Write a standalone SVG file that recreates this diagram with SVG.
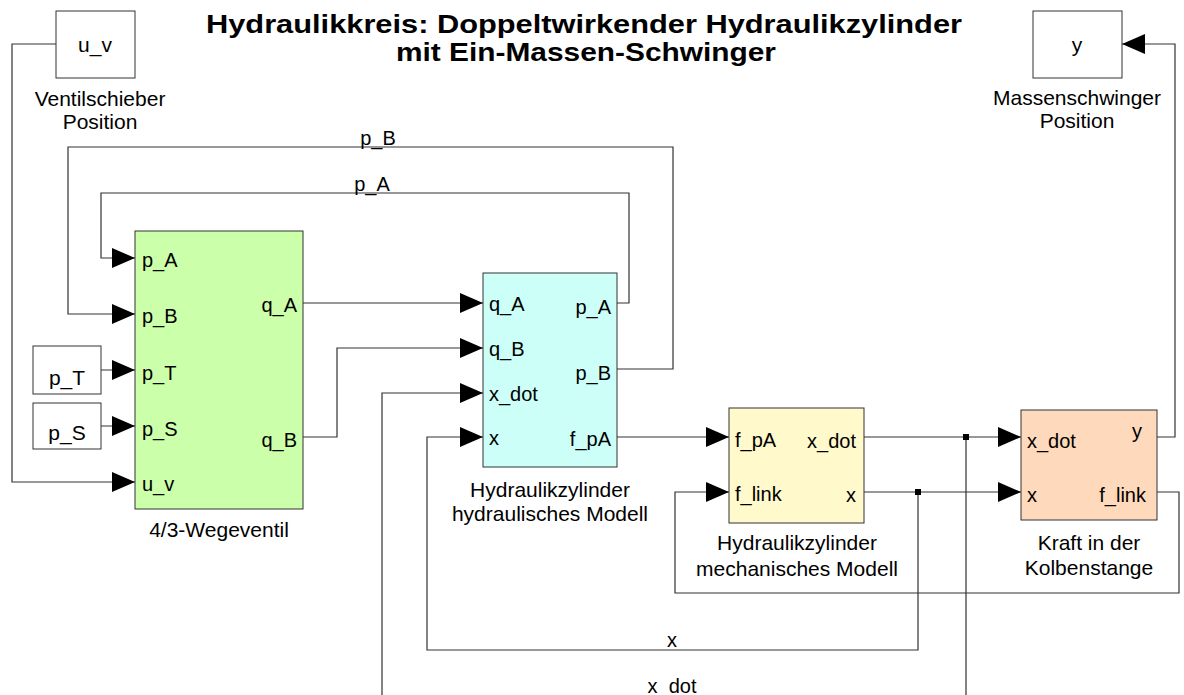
<svg xmlns="http://www.w3.org/2000/svg" width="1184" height="695" viewBox="0 0 1184 695">
<defs>
<marker id="arr" markerWidth="23" markerHeight="20" refX="23" refY="10" orient="auto" markerUnits="userSpaceOnUse">
<path d="M0,0 L23,10 L0,20 Z" fill="#000"/>
</marker>
<style>
text{font-family:"Liberation Sans",Arial,sans-serif;font-size:20px;fill:#000}
.t{font-size:25px;font-weight:bold}
.l{font-size:21px}
.c{text-anchor:middle}
.r{text-anchor:end}
.blk{stroke:#333;stroke-width:1}
.w{stroke:#333;stroke-width:1.2;fill:none}
.a{marker-end:url(#arr)}
</style>
</defs>
<rect width="1184" height="695" fill="#fff"/>
<g id="title">
<text class="t c" x="584" y="33" textLength="756" lengthAdjust="spacingAndGlyphs">Hydraulikkreis: Doppeltwirkender Hydraulikzylinder</text>
<text class="t c" x="586" y="61" textLength="380" lengthAdjust="spacingAndGlyphs">mit Ein-Massen-Schwinger</text>
</g>
<g id="connectors">
<path class="w a" d="M56,44 H12 V482 H135"/>
<path class="w a" d="M101,370 H135"/>
<path class="w a" d="M101,426 H135"/>
<path class="w a" d="M617,303 H629 V193 H101 V258 H135"/>
<path class="w a" d="M617,369 H673 V147 H68 V314 H135"/>
<path class="w a" d="M303,303 H483"/>
<path class="w a" d="M303,437 H337 V348 H483"/>
<path class="w a" d="M617,437 H729"/>
<path class="w a" d="M864,437 H1021"/>
<path class="w a" d="M864,492 H1021"/>
<path class="w a" d="M1157,492 H1179 V593 H675 V492 H729"/>
<path class="w a" d="M1157,437 H1175 V44 H1122"/>
<path class="w a" d="M918,492 V650 H427 V437 H483"/>
<path class="w a" d="M966,437 V695 M382,695 V393 H483"/>
<rect x="963" y="434" width="6" height="6" fill="#000"/>
<rect x="915" y="489" width="6" height="6" fill="#000"/>
<text class="c" x="378" y="145">p_B</text>
<text class="c" x="372" y="191">p_A</text>
<text class="c" x="672" y="647">x</text>
<text class="c" x="672" y="693">x_dot</text>
</g>
<g id="uv_in">
<rect class="blk" x="56" y="11" width="79" height="67" fill="#fff"/>
<text class="c l" x="95" y="52">u_v</text>
<text class="c l" x="100" y="106">Ventilschieber</text>
<text class="c l" x="100" y="129">Position</text>
</g>
<g id="y_out">
<rect class="blk" x="1033" y="11" width="89" height="67" fill="#fff"/>
<text class="c l" x="1077" y="52">y</text>
<text class="c l" x="1077" y="105">Massenschwinger</text>
<text class="c l" x="1077" y="128">Position</text>
</g>
<g id="pT">
<rect class="blk" x="33" y="346" width="68" height="48" fill="#fff"/>
<text class="c l" x="67" y="385">p_T</text>
</g>
<g id="pS">
<rect class="blk" x="33" y="403" width="68" height="46" fill="#fff"/>
<text class="c l" x="67" y="440">p_S</text>
</g>
<g id="ventil">
<rect class="blk" x="135" y="231" width="168" height="278" fill="#ccffaa"/>
<text x="142" y="267">p_A</text>
<text x="142" y="323">p_B</text>
<text x="142" y="380">p_T</text>
<text x="142" y="436">p_S</text>
<text x="142" y="491">u_v</text>
<text class="r" x="297" y="312">q_A</text>
<text class="r" x="297" y="447">q_B</text>
<text class="c l" x="219" y="537">4/3-Wegeventil</text>
</g>
<g id="zyl_hyd">
<rect class="blk" x="483" y="273" width="134" height="194" fill="#ccfff8"/>
<text x="489" y="311">q_A</text>
<text x="489" y="356">q_B</text>
<text x="489" y="401">x_dot</text>
<text x="489" y="445">x</text>
<text class="r" x="611" y="314">p_A</text>
<text class="r" x="611" y="380">p_B</text>
<text class="r" x="611" y="446">f_pA</text>
<text class="c l" x="550" y="497">Hydraulikzylinder</text>
<text class="c l" x="550" y="521">hydraulisches Modell</text>
</g>
<g id="zyl_mech">
<rect class="blk" x="729" y="408" width="135" height="115" fill="#fff9cc"/>
<text x="735" y="447">f_pA</text>
<text x="735" y="501">f_link</text>
<text class="r" x="856" y="448">x_dot</text>
<text class="r" x="856" y="502">x</text>
<text class="c l" x="797" y="550">Hydraulikzylinder</text>
<text class="c l" x="797" y="576">mechanisches Modell</text>
</g>
<g id="kraft">
<rect class="blk" x="1021" y="410" width="136" height="110" fill="#ffd9bb"/>
<text x="1027" y="448">x_dot</text>
<text x="1027" y="502">x</text>
<text class="r" x="1142" y="438">y</text>
<text class="r" x="1146" y="502">f_link</text>
<text class="c l" x="1089" y="550">Kraft in der</text>
<text class="c l" x="1089" y="575">Kolbenstange</text>
</g>
</svg>
